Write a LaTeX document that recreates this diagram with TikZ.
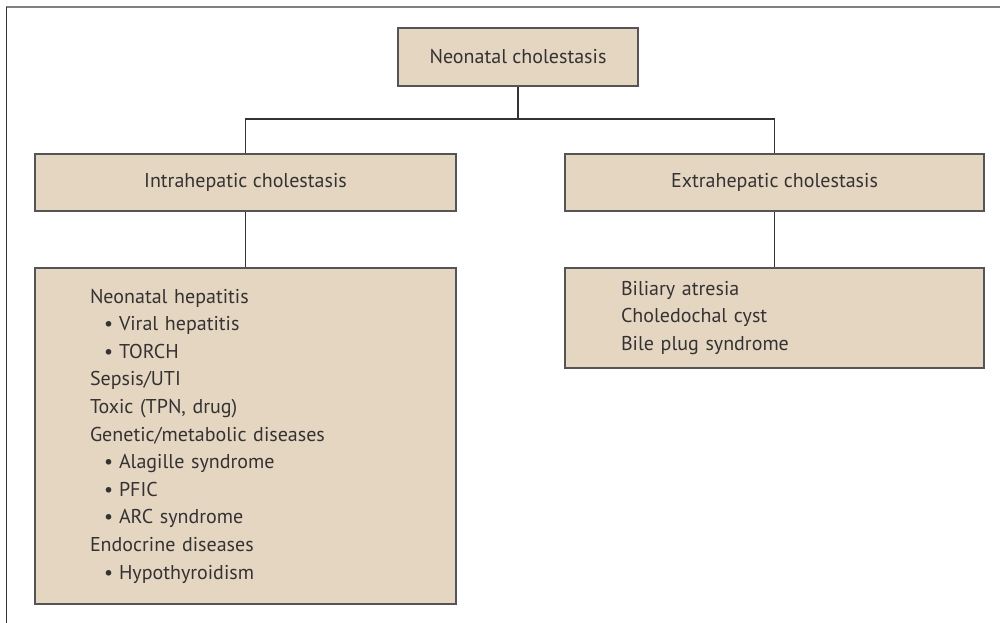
\documentclass[tikz,border=0pt]{standalone}
\usepackage{fontspec}
\setmainfont{PT Sans}
\definecolor{boxfill}{HTML}{E5D6C1}
\definecolor{boxline}{HTML}{555555}
\definecolor{ink}{HTML}{333333}
\newcommand{\bulletline}[1]{\hspace*{0.7em}\textbullet\hspace{0.3em}#1}
\begin{document}
\begin{tikzpicture}[x=0.75pt,y=-0.75pt,
  every node/.style={font=\fontsize{15}{20.7}\selectfont,text=ink},
  box/.style={draw=boxline,line width=0.8pt,fill=boxfill,inner sep=0pt},
  listbox/.style={box,align=left,inner xsep=#1,inner ysep=0pt},
  link/.style={draw=ink,line width=0.8pt}]
  \useasboundingbox (0,0) rectangle (1000,623);
  \draw[gray,line width=1.5pt] (6,7.5)--(1000,7.5);
  \draw[ink,line width=1.2pt] (6.5,7)--(6.5,623);
  \node[box,minimum width=240*0.75pt,minimum height=58*0.75pt] (neo) at (518,57) {Neonatal cholestasis};
  \node[box,minimum width=421*0.75pt,minimum height=57*0.75pt] (intra) at (245.5,182.5) {Intrahepatic cholestasis};
  \node[box,minimum width=419*0.75pt,minimum height=57*0.75pt] (extra) at (774.5,182.5) {Extrahepatic cholestasis};
  \node[listbox=55*0.75pt,text width=311*0.75pt,minimum height=336*0.75pt] (intralist) at (245.5,436) {%
    Neonatal hepatitis\\
    \bulletline{Viral hepatitis}\\
    \bulletline{TORCH}\\
    Sepsis/UTI\\
    Toxic (TPN, drug)\\
    Genetic/metabolic diseases\\
    \bulletline{Alagille syndrome}\\
    \bulletline{PFIC}\\
    \bulletline{ARC syndrome}\\
    Endocrine diseases\\
    \bulletline{Hypothyroidism}};
  \node[listbox=56*0.75pt,text width=307*0.75pt,minimum height=100*0.75pt] (extralist) at (774.5,318) {%
    Biliary atresia\\
    Choledochal cyst\\
    Bile plug syndrome};
  \coordinate (split) at (518,119);
  \draw[link] (neo) -- (split);
  \draw[link] (intra.north) |- (split) -| (extra.north);
  \draw[link] (intra) -- (intralist);
  \draw[link] (extra) -- (extralist);
\end{tikzpicture}
\end{document}
